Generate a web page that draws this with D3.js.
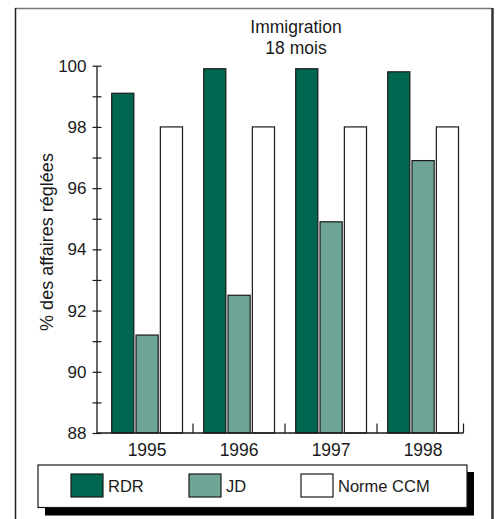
<!DOCTYPE html>
<html>
<head>
<meta charset="utf-8">
<script src="https://cdn.jsdelivr.net/npm/d3@7"></script>
<style>
  html, body { margin: 0; padding: 0; background: #fff; }
  svg { display: block; }
  text { font-family: "Liberation Sans", Arial, sans-serif; fill: #1a1a1a; }
</style>
</head>
<body>
<script>
const years = ["1995", "1996", "1997", "1998"];
const seriesNames = ["RDR", "JD", "Norme CCM"];
const rdrValues = [99.1, 99.9, 99.9, 99.8];
const jdValues = [91.2, 92.5, 94.9, 96.9];
const normeValues = [98, 98, 98, 98];
const yTickValues = [88, 89, 90, 91, 92, 93, 94, 95, 96, 97, 98, 99, 100];
const titleLines = ["Immigration", "18 mois"];
const yLabel = "% des affaires réglées";
const colors = ["#006650", "#6ea596", "#ffffff"];

const W = 497, H = 519;
const svg = d3.select("body").append("svg").attr("width", W).attr("height", H);

// outer frame
svg.append("line").attr("x1", 15).attr("x2", 492).attr("y1", 8.5).attr("y2", 8.5).attr("stroke", "#777").attr("stroke-width", 1.5);
svg.append("line").attr("x1", 15.5).attr("x2", 15.5).attr("y1", 8).attr("y2", H).attr("stroke", "#222").attr("stroke-width", 1.5);
svg.append("line").attr("x1", 492.5).attr("x2", 492.5).attr("y1", 8).attr("y2", H).attr("stroke", "#333").attr("stroke-width", 2.5);

const y = d3.scaleLinear().domain([88, 100]).range([433, 65.7]);
const x = d3.scaleBand().domain(years).range([101, 469]).paddingInner(0).paddingOuter(0);
const x1 = d3.scaleBand().domain(seriesNames).range([10.7, 81.5]).paddingInner(0.09).paddingOuter(0);

const data = years.map((yr, i) => ({
  year: yr,
  vals: [rdrValues[i], jdValues[i], normeValues[i]]
}));

// bars
const groups = svg.selectAll("g.grp").data(data).join("g").attr("class", "grp")
  .attr("transform", d => `translate(${x(d.year)},0)`);
groups.selectAll("rect").data(d => d.vals.map((v, j) => ({ s: seriesNames[j], v, j })))
  .join("rect")
  .attr("x", d => x1(d.s))
  .attr("width", x1.bandwidth())
  .attr("y", d => y(d.v))
  .attr("height", d => y(88) - y(d.v))
  .attr("fill", d => colors[d.j])
  .attr("stroke", "#1a1a1a")
  .attr("stroke-width", 1.2);

// y axis
const yAxis = d3.axisLeft(y).tickValues(yTickValues)
  .tickFormat(d => d % 2 === 0 ? d : "")
  .tickSize(4).tickSizeOuter(0).tickPadding(6);
const gy = svg.append("g").attr("transform", "translate(96.5,0)").call(yAxis);
gy.select(".domain").attr("stroke", "#1a1a1a").attr("stroke-width", 1.3);
gy.selectAll(".tick line").attr("x1", -4).attr("x2", 5).attr("stroke", "#1a1a1a").attr("stroke-width", 1.2);
gy.selectAll(".tick text").style("font-size", "17px").attr("fill", "#1a1a1a");

// x axis
const xAxisEnd = 463.5;
svg.append("line").attr("x1", 96.5).attr("x2", xAxisEnd).attr("y1", 433).attr("y2", 433)
  .attr("stroke", "#1a1a1a").attr("stroke-width", 1.3);
const xTickPos = years.map((yr, i) => i < years.length - 1 ? x(yr) + x.bandwidth() : xAxisEnd);
svg.selectAll("line.xtick").data(xTickPos).join("line").attr("class", "xtick")
  .attr("x1", d => d).attr("x2", d => d).attr("y1", 433).attr("y2", 423.5)
  .attr("stroke", "#1a1a1a").attr("stroke-width", 1.2);
svg.selectAll("text.xlab").data(years).join("text").attr("class", "xlab")
  .attr("x", d => x(d) + (x1.range()[0] + x1.range()[1]) / 2)
  .attr("y", 456).attr("text-anchor", "middle").style("font-size", "17.5px")
  .text(d => d);

// title
svg.selectAll("text.title").data(titleLines).join("text").attr("class", "title")
  .attr("x", 296).attr("y", (d, i) => 33 + i * 21)
  .attr("text-anchor", "middle").style("font-size", "17.5px").text(d => d);

// y label
svg.append("text").attr("transform", "translate(53,242) rotate(-90)")
  .attr("text-anchor", "middle").style("font-size", "18px").text(yLabel);

// legend
svg.append("rect").attr("x", 45).attr("y", 472).attr("width", 429).attr("height", 43.5).attr("fill", "#000");
svg.append("rect").attr("x", 38).attr("y", 465).attr("width", 429).attr("height", 42.5)
  .attr("fill", "#fff").attr("stroke", "#1a1a1a").attr("stroke-width", 1.2);
const legX = [71, 189, 301];
const lg = svg.selectAll("g.leg").data(seriesNames).join("g").attr("class", "leg")
  .attr("transform", (d, i) => `translate(${legX[i]},474)`);
lg.append("rect").attr("width", 32).attr("height", 23)
  .attr("fill", (d, i) => colors[i]).attr("stroke", "#1a1a1a").attr("stroke-width", 1.2);
lg.append("text").attr("x", 37).attr("y", 18).style("font-size", "16.5px").text(d => d);
</script>
</body>
</html>
